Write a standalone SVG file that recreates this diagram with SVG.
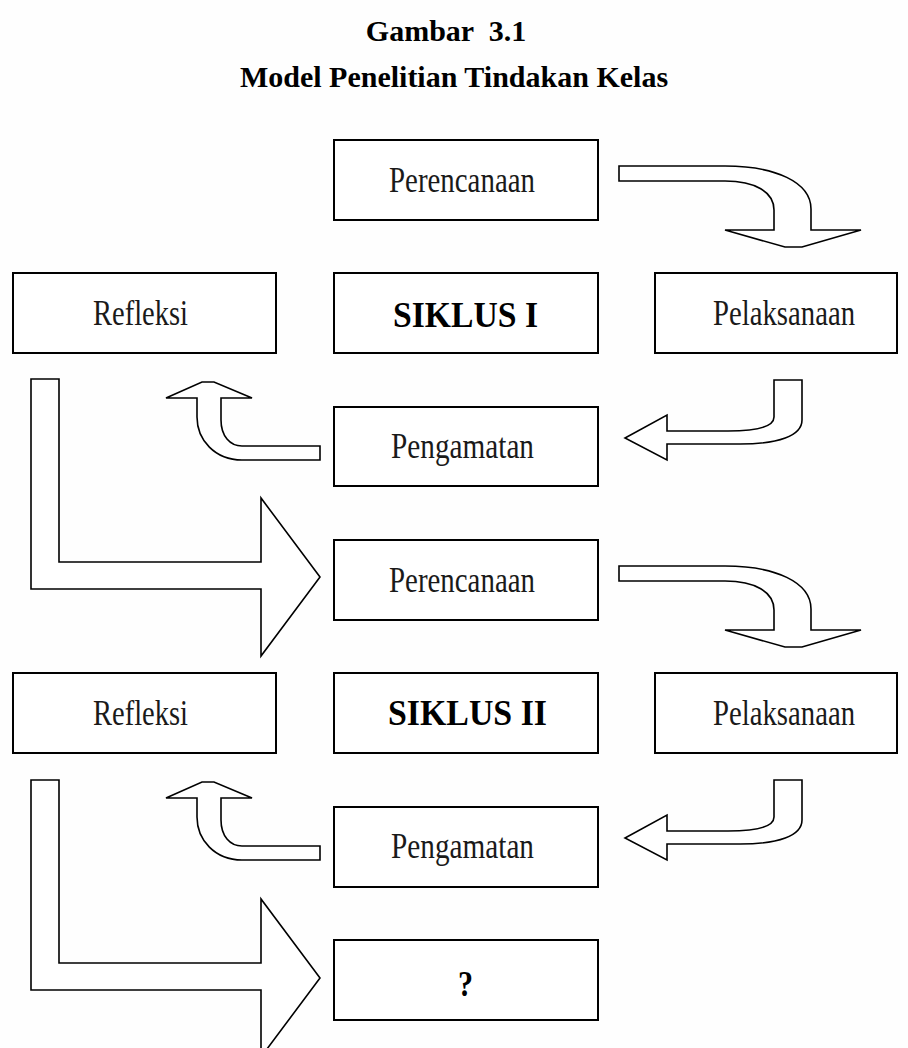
<svg xmlns="http://www.w3.org/2000/svg" xmlns:xlink="http://www.w3.org/1999/xlink" width="908" height="1048" viewBox="0 0 908 1048">
<style>
.bg{fill:#fefefe}
.box{fill:#fff;stroke:#000;stroke-width:2}
.arw{fill:#fff;stroke:#000;stroke-width:1.6;stroke-linejoin:miter}
.t{font-family:"Liberation Serif","Times New Roman",serif;font-size:35px;fill:#1a1a1a}
.b{font-weight:bold;fill:#000}
.title{font-family:"Liberation Serif","Times New Roman",serif;font-size:30px;font-weight:bold;fill:#000;text-anchor:middle}
</style>
<defs>
<path id="curveDown" d="M619,166 L725,166 C775,166 811,182 811,209 L811,230 L861,230 L802,247 L785,247 L725,230 L774,230 L774,210 C774,192 755,181 725,181 L619,181 Z"/>
<path id="curveLeft" d="M774,380 L802,380 L802,420 C802,436 778,444 740,444 L667,444 L667,460 L625,438 L667,415 L667,431 L728,431 C758,431 774,426 774,417 Z"/>
<path id="curveUp" d="M320,446 L320,460 L242,460 C215,460 197,440 197,417 L197,398 L166,398 L202,382 L214,382 L252,398 L221,398 L221,420 C221,436 230,446 242,446 Z"/>
<path id="bigL" d="M31,379 L59,379 L59,562 L261,562 L261,498 L320,577 L261,656 L261,589 L31,589 Z"/>
</defs>
<rect class="bg" x="0" y="0" width="908" height="1048"/>
<g id="title">
<text class="title" x="446" y="41" xml:space="preserve">Gambar  3.1</text>
<text class="title" x="454" y="87">Model Penelitian Tindakan Kelas</text>
</g>
<g id="connectors">
<use href="#curveDown" class="arw"/>
<use href="#curveLeft" class="arw"/>
<use href="#curveUp" class="arw"/>
<use href="#bigL" class="arw"/>
<use href="#curveDown" class="arw" transform="translate(0,400)"/>
<use href="#curveLeft" class="arw" transform="translate(0,400)"/>
<use href="#curveUp" class="arw" transform="translate(0,400)"/>
<use href="#bigL" class="arw" transform="translate(0,401)"/>
</g>
<g id="perencanaan1"><rect class="box" x="334" y="140" width="264" height="80"/><text class="t" x="389" y="192" textLength="146" lengthAdjust="spacingAndGlyphs">Perencanaan</text></g>
<g id="refleksi1"><rect class="box" x="13" y="273" width="263" height="80"/><text class="t" x="93" y="325" textLength="95" lengthAdjust="spacingAndGlyphs">Refleksi</text></g>
<g id="siklus1"><rect class="box" x="334" y="273" width="264" height="80"/><text class="t b" x="393" y="327" textLength="145" lengthAdjust="spacingAndGlyphs">SIKLUS I</text></g>
<g id="pelaksanaan1"><rect class="box" x="655" y="273" width="242" height="80"/><text class="t" x="713" y="325" textLength="142" lengthAdjust="spacingAndGlyphs">Pelaksanaan</text></g>
<g id="pengamatan1"><rect class="box" x="334" y="407" width="264" height="79"/><text class="t" x="391" y="458" textLength="143" lengthAdjust="spacingAndGlyphs">Pengamatan</text></g>
<g id="perencanaan2"><rect class="box" x="334" y="540" width="264" height="80"/><text class="t" x="389" y="592" textLength="146" lengthAdjust="spacingAndGlyphs">Perencanaan</text></g>
<g id="refleksi2"><rect class="box" x="13" y="673" width="263" height="80"/><text class="t" x="93" y="725" textLength="95" lengthAdjust="spacingAndGlyphs">Refleksi</text></g>
<g id="siklus2"><rect class="box" x="334" y="673" width="264" height="80"/><text class="t b" x="388" y="725" textLength="159" lengthAdjust="spacingAndGlyphs">SIKLUS II</text></g>
<g id="pelaksanaan2"><rect class="box" x="655" y="673" width="242" height="80"/><text class="t" x="713" y="725" textLength="142" lengthAdjust="spacingAndGlyphs">Pelaksanaan</text></g>
<g id="pengamatan2"><rect class="box" x="334" y="807" width="264" height="80"/><text class="t" x="391" y="858" textLength="143" lengthAdjust="spacingAndGlyphs">Pengamatan</text></g>
<g id="unknown"><rect class="box" x="334" y="940" width="264" height="80"/><text class="t b" x="458" y="996" textLength="15" lengthAdjust="spacingAndGlyphs">?</text></g>
</svg>
